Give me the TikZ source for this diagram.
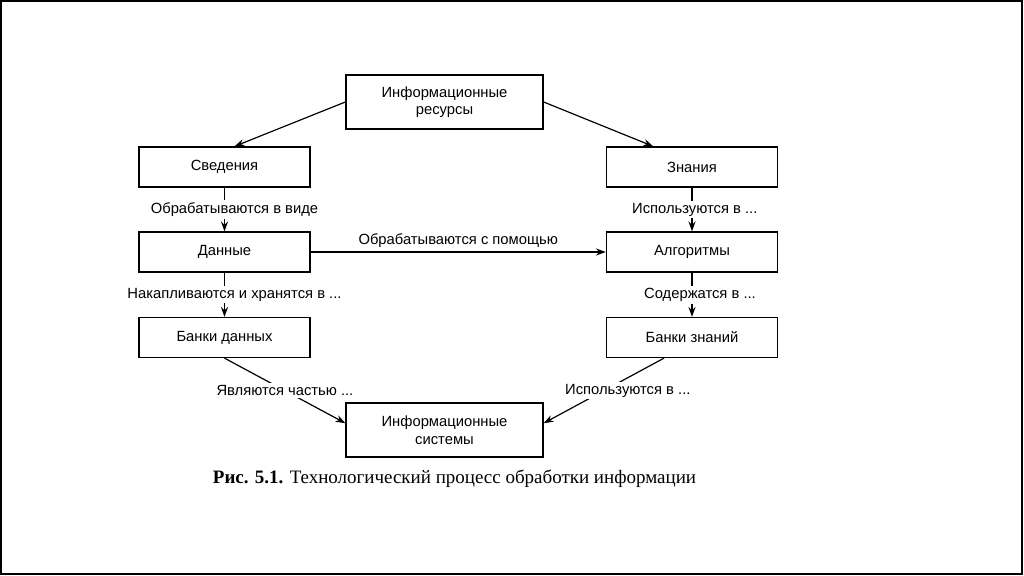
\documentclass[tikz,border=0pt]{standalone}
\usepackage{fontspec}
\setmainfont{Liberation Serif}
\setsansfont{Liberation Sans}
\usetikzlibrary{arrows.meta}

\tikzset{
  box/.style={draw,line width=0.9pt,minimum width=4.275cm,minimum height=1cm,
    font=\sffamily\fontsize{10.5}{12.5}\selectfont,align=center},
  bigbox/.style={box,minimum width=4.925cm,minimum height=1.35cm},
  lbl/.style={fill=white,inner sep=1.5pt,font=\sffamily\fontsize{10.5}{12.5}\selectfont},
  arr/.style={line width=0.85pt,-{Stealth[length=7pt,width=5pt]}}
}

\begin{document}
\begin{tikzpicture}[x=0.025cm,y=-0.025cm]
\useasboundingbox (0,0) rectangle (1024,576);
\draw[line width=1.6pt] (1,1) rectangle (1022,574);
% boxes
\node[bigbox] (res) at (444.5,102) {Информационные\\ресурсы};
\node[box] (sved) at (224.5,167) {Сведения};
\node[box] (dann) at (224.5,252) {Данные};
\node[box] (bd) at (224.5,337.5) {Банки данных};
\node[box] (zn) at (692,167) {Знания};
\node[box] (alg) at (692,252) {Алгоритмы};
\node[box] (bz) at (692,337.5) {Банки знаний};
\node[bigbox] (sys) at (444.5,430) {Информационные\\системы};
% arrows
\draw[arr] (res.west) -- ([xshift=0.25cm]sved.north);
\draw[arr] (res.east) -- ([xshift=-0.97cm]zn.north);
\draw[arr] (sved) -- node[lbl,xshift=0.25cm] {Обрабатываются в виде} (dann);
\draw[arr] (dann) -- node[lbl,xshift=0.25cm] {Накапливаются и хранятся в ...} (bd);
\draw[arr] (zn) -- node[lbl,xshift=0.07cm] {Используются в ...} (alg);
\draw[arr] (alg) -- node[lbl,xshift=0.2cm] {Содержатся в ...} (bz);
\draw[arr] (dann) -- node[lbl,above=1pt,fill=none] {Обрабатываются с помощью} (alg);
\draw[arr] (bd.south) -- node[lbl] {Являются частью ...} ([yshift=0.17cm]sys.west);
\draw[arr] ([xshift=-0.7cm]bz.south) -- node[lbl,xshift=0.6cm] {Используются в ...} ([yshift=0.17cm]sys.east);
% caption
\node (cap) at (454.5,479) {\fontsize{13.5}{16}\selectfont\textbf{Рис. 5.1.} Технологический процесс обработки информации};
\end{tikzpicture}
\end{document}
